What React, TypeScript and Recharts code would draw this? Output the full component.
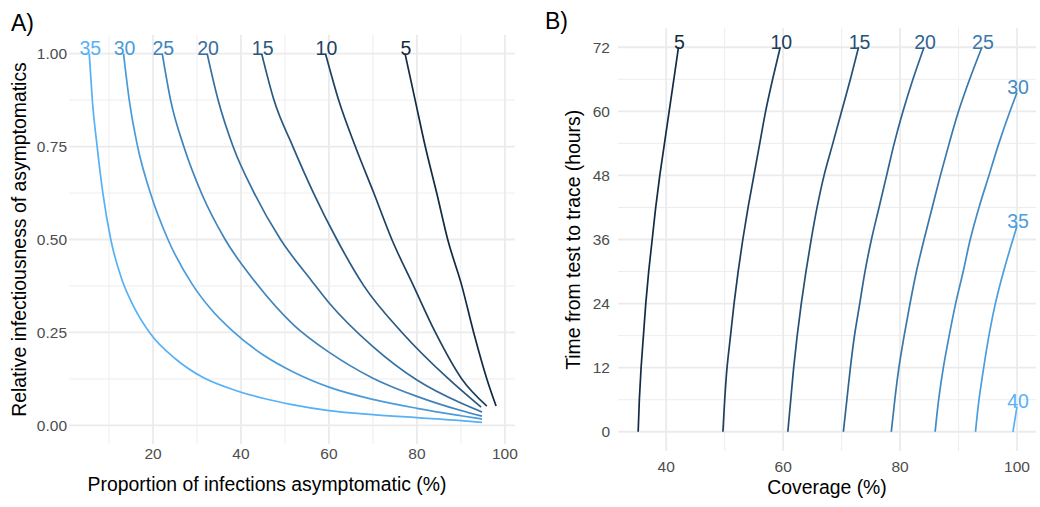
import React from "react"
import { LineChart, Line, XAxis, YAxis, CartesianGrid, LabelList } from "recharts"

// Panel A: proportion asymptomatic (%) vs relative infectiousness, one contour per level
const asymLevels = [5, 10, 15, 20, 25, 30, 35]
const asym5: [number, number][] = [[77.3, 1], [79.6, 0.875], [81.9, 0.75], [84.5, 0.625], [87, 0.5], [90.2, 0.376], [92.9, 0.25], [95.9, 0.125], [98, 0.052]]
const asym10: [number, number][] = [[59.2, 1], [62.2, 0.875], [66, 0.75], [70.2, 0.625], [74.3, 0.5], [79.2, 0.376], [84.2, 0.25], [90.2, 0.125], [95.9, 0.052]]
const asym15: [number, number][] = [[44.7, 1], [47.5, 0.875], [51.8, 0.75], [56.5, 0.625], [61.8, 0.5], [67.9, 0.376], [76.6, 0.25], [87.2, 0.125], [94.6, 0.049]]
const asym20: [number, number][] = [[32.3, 1], [34.8, 0.875], [38.2, 0.75], [43, 0.625], [49, 0.5], [56, 0.39], [60, 0.33], [70, 0.212], [80, 0.122], [90, 0.06], [94.8, 0.036]]
const asym25: [number, number][] = [[22.1, 1], [24, 0.875], [27, 0.75], [31, 0.625], [36.4, 0.5], [43.3, 0.385], [52, 0.27], [60, 0.197], [70, 0.127], [80, 0.078], [90, 0.04], [94.8, 0.025]]
const asym30: [number, number][] = [[13.3, 1], [14.6, 0.875], [16.5, 0.75], [19.4, 0.625], [23.4, 0.5], [28.9, 0.38], [33, 0.315], [38, 0.255], [45, 0.19], [52, 0.143], [60, 0.103], [70, 0.07], [80, 0.046], [90, 0.026], [94.8, 0.017]]
const asym35: [number, number][] = [[5.5, 1], [6.2, 0.875], [7.3, 0.75], [8.6, 0.625], [10.4, 0.5], [12.9, 0.393], [15.5, 0.322], [19.5, 0.245], [25, 0.18], [31.2, 0.13], [38.8, 0.094], [45, 0.073], [51.6, 0.056], [60, 0.04], [70, 0.029], [80, 0.021], [90, 0.013], [94.8, 0.008]]
const asymLines = [asym5, asym10, asym15, asym20, asym25, asym30, asym35]
const asymXTicks = [20, 40, 60, 80, 100]
const asymYTicks = [0, 0.25, 0.5, 0.75, 1]

// Panel B: coverage (%) vs time from test to trace (hours)
const covLevels = [5, 10, 15, 20, 25, 30, 35, 40]
const cov5: [number, number][] = [[42.1, 72], [41.3, 66], [40.5, 60], [39.7, 54], [38.9, 48], [38.2, 42], [37.6, 36], [37, 30], [36.5, 24], [36.1, 18], [35.7, 12], [35.4, 6], [35.2, 0]]
const cov10: [number, number][] = [[59.5, 72], [58.2, 66], [57, 60], [56, 54], [55, 48], [54, 42], [53.1, 36], [52.3, 30], [51.6, 24], [51, 18], [50.4, 12], [50, 6], [49.7, 0]]
const cov15: [number, number][] = [[72.9, 72], [71.5, 66], [70, 60], [68.5, 54], [67, 48], [65.8, 42], [64.8, 36], [63.9, 30], [63.1, 24], [62.4, 18], [61.8, 12], [61.3, 6], [60.8, 0]]
const cov20: [number, number][] = [[84.1, 72], [82.2, 66], [80.5, 60], [79, 54], [77.7, 48], [76.4, 42], [75.1, 36], [74, 30], [73.1, 24], [72.2, 18], [71.5, 12], [70.9, 6], [70.3, 0]]
const cov25: [number, number][] = [[94, 72], [91.9, 66], [90, 60], [88.4, 54], [86.9, 48], [85.5, 42], [84.1, 36], [82.8, 30], [81.7, 24], [80.7, 18], [79.8, 12], [79.1, 6], [78.5, 0]]
const cov30: [number, number][] = [[100, 63.5], [98.8, 60], [96.9, 54], [95.2, 48], [93.5, 42], [92, 36], [90.8, 30], [89.5, 24], [88.4, 18], [87.4, 12], [86.6, 6], [86, 0]]
const cov35: [number, number][] = [[100, 38.5], [99.3, 36], [97.7, 30], [96.3, 24], [95.2, 18], [94.3, 12], [93.5, 6], [92.9, 0]]
const cov40: [number, number][] = [[100, 4.7], [99.3, 0]]
const covLines = [cov5, cov10, cov15, cov20, cov25, cov30, cov35, cov40]
const covXTicks = [40, 60, 80, 100]
const covYTicks = [0, 12, 24, 36, 48, 60, 72]

const FONT = '"Liberation Sans", Arial, Helvetica, sans-serif'

// ggplot default continuous colour scale (#132B43 -> #56B1F7)
function levelColor(level: number, min: number, max: number) {
  const t = (level - min) / (max - min)
  const lo = [19, 43, 67]
  const hi = [86, 177, 247]
  const c = lo.map((v, i) => Math.round(v + (hi[i] - v) * t))
  return `rgb(${c[0]},${c[1]},${c[2]})`
}

// first point of each array is the labelled end; sort along the monotone coordinate
function toPoints(pts: [number, number][], level: number, by: 0 | 1) {
  const top = pts[0]
  return [...pts]
    .sort((a, b) => a[by] - b[by])
    .map((p) => ({ x: p[0], y: p[1], label: p === top ? String(level) : undefined }))
}

const contourLabel = (color: string) => (props: any) => {
  if (props.value === undefined || props.value === null) return null
  const vb = props.viewBox || {}
  const x = props.x ?? vb.x
  const y = props.y ?? vb.y
  return (
    <text x={x + 1} y={y + 1.5} textAnchor="middle" fill={color} fontSize={19.5} fontFamily={FONT}>
      {props.value}
    </text>
  )
}

const tickStyle = { fontSize: 15.5, fill: "#4D4D4D", fontFamily: FONT }

export default function App() {
  return (
    <div style={{ position: "absolute", left: 0, top: 0, width: 1040, height: 507, background: "#fff" }}>
      <div style={{ position: "absolute", left: 0, top: 0 }}>
        <LineChart width={520} height={507} margin={{ top: 35, right: 5, bottom: 0, left: 0 }}>
          <CartesianGrid stroke="#EBEBEB" strokeWidth={0.9} verticalValues={[10, 30, 50, 70, 90]} horizontalValues={[0.125, 0.375, 0.625, 0.875]} />
          <CartesianGrid stroke="#EBEBEB" strokeWidth={1.8} verticalValues={asymXTicks} horizontalValues={asymYTicks} />
          <XAxis type="number" dataKey="x" domain={[0.9, 102.3]} ticks={asymXTicks} allowDataOverflow axisLine={false} tickLine={false} tickSize={0} tickMargin={4} height={63} tick={tickStyle} />
          <YAxis type="number" dataKey="y" domain={[-0.05, 1.05]} ticks={asymYTicks} allowDataOverflow axisLine={false} tickLine={false} tickSize={0} tickMargin={2} width={69} tick={tickStyle} tickFormatter={(v: number) => v.toFixed(2)} />
          {asymLines.map((pts, i) => {
            const color = levelColor(asymLevels[i], 5, 35)
            return (
              <Line key={asymLevels[i]} data={toPoints(pts, asymLevels[i], 0)} dataKey="y" type="monotoneX" stroke={color} strokeWidth={1.7} dot={false} activeDot={false} isAnimationActive={false}>
                <LabelList dataKey="label" content={contourLabel(color)} />
              </Line>
            )
          })}
        </LineChart>
      </div>
      <div style={{ position: "absolute", left: 520, top: 0 }}>
        <LineChart width={520} height={507} margin={{ top: 28, right: 4, bottom: 0, left: 0 }}>
          <CartesianGrid stroke="#EBEBEB" strokeWidth={0.9} verticalValues={[50, 70, 90]} horizontalValues={[6, 18, 30, 42, 54, 66]} />
          <CartesianGrid stroke="#EBEBEB" strokeWidth={1.8} verticalValues={covXTicks} horizontalValues={covYTicks} />
          <XAxis type="number" dataKey="x" domain={[31.75, 103.25]} ticks={covXTicks} allowDataOverflow axisLine={false} tickLine={false} tickSize={0} tickMargin={10} height={56} tick={tickStyle} />
          <YAxis type="number" dataKey="y" domain={[-3.6, 75.6]} ticks={covYTicks} allowDataOverflow axisLine={false} tickLine={false} tickSize={0} tickMargin={8} width={98} tick={tickStyle} />
          {covLines.map((pts, i) => {
            const color = levelColor(covLevels[i], 5, 40)
            return (
              <Line key={covLevels[i]} data={toPoints(pts, covLevels[i], 1)} dataKey="y" type="monotoneY" stroke={color} strokeWidth={1.7} dot={false} activeDot={false} isAnimationActive={false}>
                <LabelList dataKey="label" content={contourLabel(color)} />
              </Line>
            )
          })}
        </LineChart>
      </div>
      <svg width={1040} height={507} style={{ position: "absolute", left: 0, top: 0, pointerEvents: "none" }} fontFamily={FONT}>
        <text x={11} y={31} fontSize={23} fill="#000">A)</text>
        <text x={545} y={29} fontSize={23} fill="#000">B)</text>
        <text x={267} y={490.5} fontSize={19.4} textAnchor="middle" fill="#000">Proportion of infections asymptomatic (%)</text>
        <text x={827} y={494} fontSize={19.4} textAnchor="middle" fill="#000">Coverage (%)</text>
        <text transform="translate(26,239.5) rotate(-90)" fontSize={19.4} textAnchor="middle" fill="#000">Relative infectiousness of asymptomatics</text>
        <text transform="translate(579.5,239.8) rotate(-90)" fontSize={19.4} textAnchor="middle" fill="#000">Time from test to trace (hours)</text>
      </svg>
    </div>
  )
}
